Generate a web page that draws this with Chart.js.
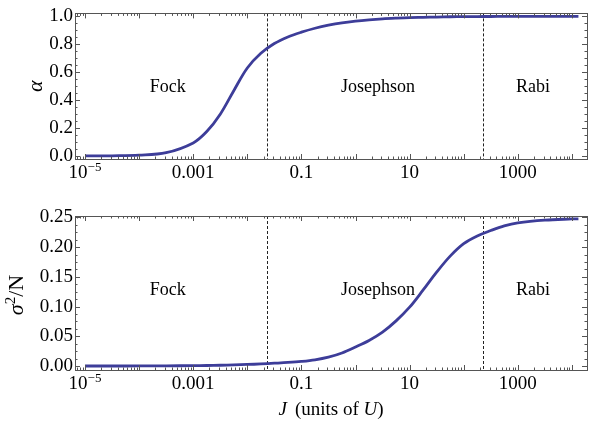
<!DOCTYPE html>
<html>
<head>
<meta charset="utf-8">
<script src="https://cdn.jsdelivr.net/npm/chart.js@4.4.1/dist/chart.umd.min.js"></script>
<style>
  html, body { margin: 0; padding: 0; background: #fff; }
  #wrap { position: relative; width: 605px; height: 426px; }
  .box { position: absolute; left: 0; width: 605px; }
</style>
</head>
<body>
<div id="wrap">
  <div class="box" style="top:0;height:190px"><canvas id="chart-alpha"></canvas></div>
  <div class="box" style="top:190px;height:236px"><canvas id="chart-sigma"></canvas></div>
</div>
<script>
/* global Chart */
// J (units of U), sampled along the curves
var jValues = [1e-5, 3.16e-5, 1e-4, 3.16e-4, 1e-3, 1.78e-3, 3.16e-3, 5.62e-3, 1e-2, 1.78e-2,
  3.16e-2, 5.62e-2, 0.1, 0.178, 0.316, 0.562, 1, 1.78, 3.16, 5.62, 10, 17.8, 31.6, 56.2,
  100, 178, 316, 562, 1000, 3160, 10000, 13200];

var alphaValues = [0.002, 0.003, 0.007, 0.025, 0.095, 0.176, 0.30, 0.468, 0.63, 0.735,
  0.805, 0.852, 0.886, 0.914, 0.936, 0.953, 0.965, 0.974, 0.981, 0.986, 0.99, 0.992, 0.994, 0.996,
  0.997, 0.9975, 0.998, 0.9985, 0.999, 0.999, 0.999, 0.999];

var sigmaValues = [0.0, 0.0, 0.0001, 0.0003, 0.0006, 0.0009, 0.0013, 0.0019, 0.0026, 0.0035,
  0.0047, 0.006, 0.0078, 0.0105, 0.015, 0.022, 0.032, 0.043, 0.057, 0.076, 0.099, 0.128, 0.158, 0.185,
  0.206, 0.219, 0.228, 0.236, 0.241, 0.2455, 0.2475, 0.2478];

// regime boundaries (dashed lines) and regime labels
var boundaries  = [0.023, 225];
var regionNames = ['Fock', 'Josephson', 'Rabi'];
var regionJ     = [3.4e-4, 2.6, 1900];

// tick labels
var xTickValues = [1e-5, 1e-3, 0.1, 10, 1000];
var xTickLabels = ['10^-5', '0.001', '0.1', '10', '1000'];
var alphaTicks  = [0, 0.2, 0.4, 0.6, 0.8, 1.0];
var sigmaTicks  = [0, 0.05, 0.10, 0.15, 0.20, 0.25];

var SERIF = '"Liberation Serif", "Times New Roman", serif';
var LINE_COLOR = '#3d3d99';
var FRAME_COLOR = '#555';

function font(size, style) {
  return (style || 'normal') + ' ' + size + 'px ' + SERIF;
}

// draw rich text pieces [{t, italic, sup}] starting at x (baseline y)
function drawPieces(ctx, pieces, x, y, size) {
  pieces.forEach(function (p) {
    var s = p.sup ? Math.round(size * 0.7) : size;
    ctx.font = font(s, p.italic ? 'italic' : 'normal');
    ctx.fillText(p.t, x, p.sup ? y - size * 0.38 : y);
    x += ctx.measureText(p.t).width + (p.gap || 0);
  });
  return x;
}

function piecesWidth(ctx, pieces, size) {
  var w = 0;
  pieces.forEach(function (p) {
    var s = p.sup ? Math.round(size * 0.7) : size;
    ctx.font = font(s, p.italic ? 'italic' : 'normal');
    w += ctx.measureText(p.t).width + (p.gap || 0);
  });
  return w;
}

function tickPieces(label) {
  var parts = label.split('^');
  var out = [{ t: parts[0] }];
  if (parts[1]) out.push({ t: parts[1].replace('-', '\u2212'), sup: true });
  return out;
}

var framePlugin = {
  id: 'frame',
  beforeDatasetsDraw: function (chart) {
    var ctx = chart.ctx, a = chart.chartArea, xs = chart.scales.x, ys = chart.scales.y;
    var cfg = chart.options.plugins.frame;
    ctx.save();
    // dashed regime boundaries
    ctx.strokeStyle = '#222';
    ctx.lineWidth = 1;
    ctx.setLineDash([3, 2]);
    boundaries.forEach(function (b) {
      var px = Math.round(xs.getPixelForValue(b)) + 0.5;
      ctx.beginPath();
      ctx.moveTo(px, a.top);
      ctx.lineTo(px, a.bottom);
      ctx.stroke();
    });
    ctx.setLineDash([]);
    // regime labels
    ctx.fillStyle = '#000';
    ctx.font = font(18);
    ctx.textAlign = 'center';
    ctx.textBaseline = 'alphabetic';
    regionNames.forEach(function (name, i) {
      ctx.fillText(name, xs.getPixelForValue(regionJ[i]), ys.getPixelForValue(cfg.labelY));
    });
    ctx.restore();
  },
  afterDraw: function (chart) {
    var ctx = chart.ctx, a = chart.chartArea, xs = chart.scales.x, ys = chart.scales.y;
    var cfg = chart.options.plugins.frame;
    ctx.save();
    ctx.strokeStyle = FRAME_COLOR;
    ctx.lineWidth = 1;
    ctx.strokeRect(Math.round(a.left) + 0.5, Math.round(a.top) + 0.5,
      Math.round(a.right - a.left), Math.round(a.bottom - a.top));

    // x ticks (log): majors at decades, minors at 2..9
    var lo = Math.floor(Math.log10(xs.min)), hi = Math.ceil(Math.log10(xs.max));
    ctx.beginPath();
    for (var d = lo; d <= hi; d++) {
      for (var k = 1; k <= 9; k++) {
        var v = k * Math.pow(10, d);
        if (v < xs.min || v > xs.max) continue;
        var len = k === 1 ? 5 : 2.5;
        var px = Math.round(xs.getPixelForValue(v)) + 0.5;
        ctx.moveTo(px, a.bottom); ctx.lineTo(px, a.bottom - len);
        ctx.moveTo(px, a.top); ctx.lineTo(px, a.top + len);
      }
    }
    // y ticks: majors at labels, minors between
    var t = cfg.yTicks, step = (t[1] - t[0]) / 4;
    for (var i = 0; i < t.length; i++) {
      for (var m = 0; m < 4; m++) {
        var yv = t[i] + m * step;
        if (yv > ys.max) continue;
        var l2 = m === 0 ? 5 : 2.5;
        var py = Math.round(ys.getPixelForValue(yv)) + 0.5;
        ctx.moveTo(a.left, py); ctx.lineTo(a.left + l2, py);
        ctx.moveTo(a.right, py); ctx.lineTo(a.right - l2, py);
      }
    }
    ctx.stroke();

    // x tick labels
    ctx.fillStyle = '#000';
    ctx.textAlign = 'left';
    ctx.textBaseline = 'alphabetic';
    xTickValues.forEach(function (v, j) {
      var pcs = tickPieces(xTickLabels[j]);
      var w = piecesWidth(ctx, pcs, 19);
      drawPieces(ctx, pcs, xs.getPixelForValue(v) - w / 2, a.bottom + 19, 19);
    });

    // y axis title (rotated)
    ctx.save();
    ctx.translate(cfg.yTitleX, (a.top + a.bottom) / 2 + cfg.yTitleShift);
    ctx.rotate(-Math.PI / 2);
    var tw = piecesWidth(ctx, cfg.yTitle, cfg.yTitleSize);
    drawPieces(ctx, cfg.yTitle, -tw / 2, 0, cfg.yTitleSize);
    ctx.restore();

    // x axis title
    if (cfg.xTitle) {
      var xw = piecesWidth(ctx, cfg.xTitle, 19);
      drawPieces(ctx, cfg.xTitle, (a.left + a.right) / 2 - xw / 2, a.bottom + 45, 19);
    }
    ctx.restore();
  }
};

function makeChart(id, values, yMin, yMax, yTicks, decimals, padTop, xHeight, frameCfg) {
  var pts = jValues.map(function (j, i) { return { x: j, y: values[i] }; });
  frameCfg.yTicks = yTicks;
  return new Chart(document.getElementById(id), {
    type: 'line',
    data: {
      datasets: [{
        data: pts,
        borderColor: LINE_COLOR,
        borderWidth: 2.8,
        pointRadius: 0,
        fill: false,
        tension: 0.35
      }]
    },
    options: {
      responsive: true,
      maintainAspectRatio: false,
      animation: false,
      devicePixelRatio: 1,
      layout: { padding: { top: padTop, right: 18, left: 0, bottom: 0 } },
      plugins: { legend: { display: false }, tooltip: { enabled: false }, frame: frameCfg },
      scales: {
        x: {
          type: 'logarithmic',
          min: Math.pow(10, -5.185),
          max: Math.pow(10, 4.279),
          grid: { display: false },
          border: { display: false },
          ticks: { display: false },
          afterFit: function (s) { s.height = xHeight; }
        },
        y: {
          type: 'linear',
          min: yMin,
          max: yMax,
          grid: { display: false, drawTicks: false },
          border: { display: false },
          ticks: {
            padding: 2,
            color: '#000',
            font: { family: SERIF, size: 19 },
            callback: function (v) { return Number(v).toFixed(decimals); }
          },
          afterBuildTicks: function (s) { s.ticks = yTicks.map(function (v) { return { value: v }; }); },
          afterFit: function (s) { s.width = 75; }
        }
      }
    },
    plugins: [framePlugin]
  });
}

makeChart('chart-alpha', alphaValues, -0.02, 1.02, alphaTicks, 1, 5, 31, {
  labelY: 0.46,
  yTitle: [{ t: '\u03b1', italic: true }],
  yTitleSize: 22,
  yTitleX: 42,
  yTitleShift: 0
});

makeChart('chart-sigma', sigmaValues, -0.0067, 0.2525, sigmaTicks, 2, 26, 56, {
  labelY: 0.12,
  yTitle: [{ t: '\u03c3', italic: true }, { t: '2', sup: true }, { t: '/N' }],
  yTitleSize: 22,
  yTitleX: 23,
  yTitleShift: 2,
  xTitle: [{ t: 'J', italic: true, gap: 8 }, { t: '(units of ' }, { t: 'U', italic: true }, { t: ')' }]
});
</script>
</body>
</html>
